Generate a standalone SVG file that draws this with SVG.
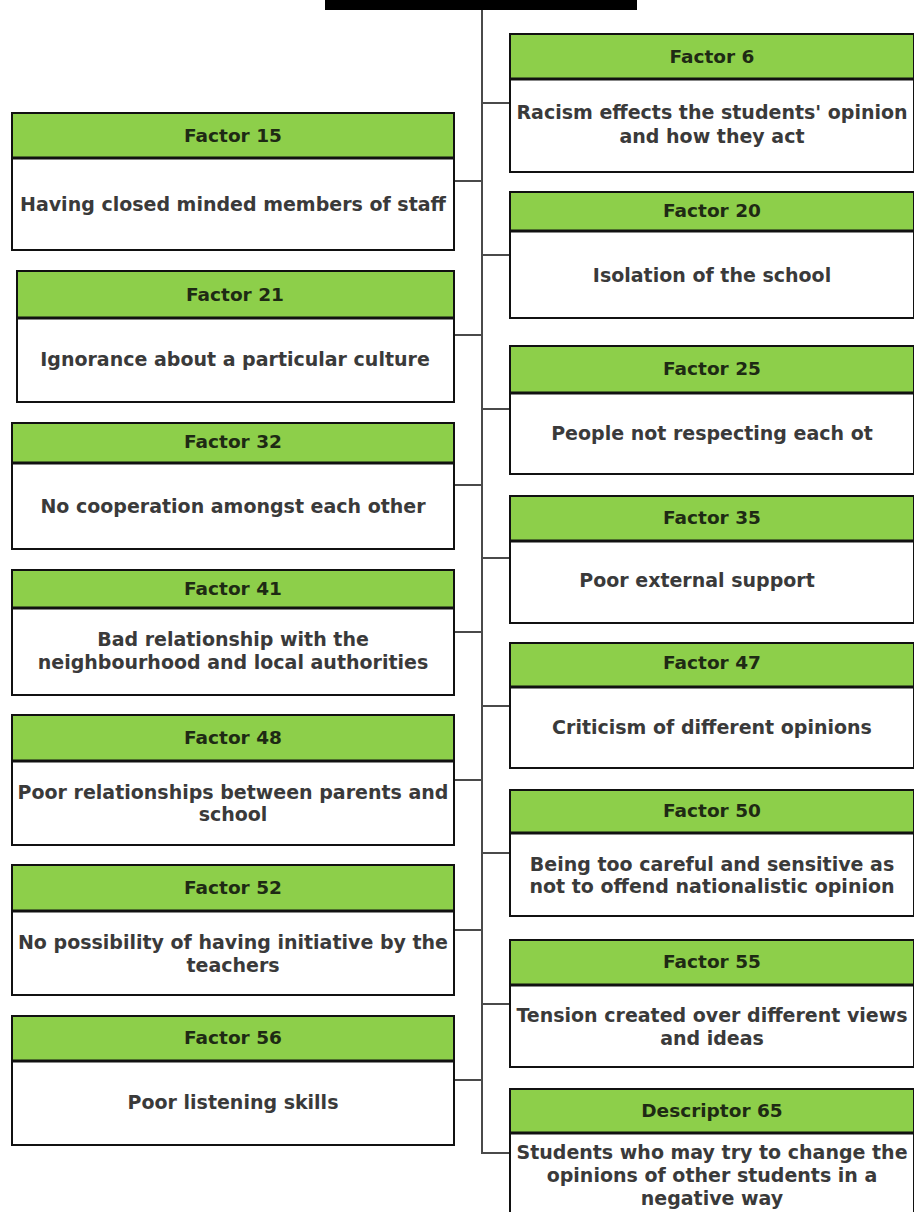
<svg xmlns="http://www.w3.org/2000/svg" width="914" height="1212" viewBox="0 0 914 1212">
<style>
.hd{fill:#8dcf4a;stroke:#111;stroke-width:2}
.bd{fill:#fff;stroke:#111;stroke-width:2}
.dv{stroke:#111;stroke-width:3}
.ht{font-family:"DejaVu Sans",Verdana,sans-serif;font-weight:bold;font-size:18.5px;fill:#1e2a14;text-anchor:middle}
.bt{font-family:"DejaVu Sans",Verdana,sans-serif;font-weight:bold;font-size:19px;fill:#3a3a3a;text-anchor:middle}
.cn{stroke:#4a4a4a;stroke-width:2;fill:none}
</style>
<rect x="325" y="-2" width="312" height="12" fill="#000"/>
<g id="connectors">
<path class="cn" d="M482 10 V1153 H511"/>
<path class="cn" d="M454 181 H482 M454 335 H482 M454 485 H482 M454 632 H482 M454 780 H482 M454 930 H482 M454 1080 H482"/>
<path class="cn" d="M482 103 H510 M482 255 H510 M482 409 H510 M482 558 H510 M482 706 H510 M482 853 H510 M482 1004 H510"/>
</g>
<g id="f15"><rect class="hd" x="12" y="113" width="442" height="45"/><rect class="bd" x="12" y="158" width="442" height="92"/><line class="dv" x1="12" y1="158" x2="454" y2="158"/><text class="ht" x="233" y="142">Factor 15</text><text class="bt" x="233" y="211">Having closed minded members of staff</text></g>
<g id="f21"><rect class="hd" x="17" y="271" width="437" height="47"/><rect class="bd" x="17" y="318" width="437" height="84"/><line class="dv" x1="17" y1="318" x2="454" y2="318"/><text class="ht" x="235" y="301">Factor 21</text><text class="bt" x="235" y="366">Ignorance about a particular culture</text></g>
<g id="f32"><rect class="hd" x="12" y="423" width="442" height="40"/><rect class="bd" x="12" y="463" width="442" height="86"/><line class="dv" x1="12" y1="463" x2="454" y2="463"/><text class="ht" x="233" y="448">Factor 32</text><text class="bt" x="233" y="513">No cooperation amongst each other</text></g>
<g id="f41"><rect class="hd" x="12" y="570" width="442" height="38"/><rect class="bd" x="12" y="608" width="442" height="87"/><line class="dv" x1="12" y1="608" x2="454" y2="608"/><text class="ht" x="233" y="595">Factor 41</text><text class="bt" x="233" y="646">Bad relationship with the</text><text class="bt" x="233" y="669">neighbourhood and local authorities</text></g>
<g id="f48"><rect class="hd" x="12" y="715" width="442" height="46"/><rect class="bd" x="12" y="761" width="442" height="84"/><line class="dv" x1="12" y1="761" x2="454" y2="761"/><text class="ht" x="233" y="744">Factor 48</text><text class="bt" x="233" y="799">Poor relationships between parents and</text><text class="bt" x="233" y="821">school</text></g>
<g id="f52"><rect class="hd" x="12" y="865" width="442" height="46"/><rect class="bd" x="12" y="911" width="442" height="84"/><line class="dv" x1="12" y1="911" x2="454" y2="911"/><text class="ht" x="233" y="894">Factor 52</text><text class="bt" x="233" y="949">No possibility of having initiative by the</text><text class="bt" x="233" y="972">teachers</text></g>
<g id="f56"><rect class="hd" x="12" y="1016" width="442" height="45"/><rect class="bd" x="12" y="1061" width="442" height="84"/><line class="dv" x1="12" y1="1061" x2="454" y2="1061"/><text class="ht" x="233" y="1044">Factor 56</text><text class="bt" x="233" y="1109">Poor listening skills</text></g>
<g id="f6"><rect class="hd" x="510" y="34" width="404" height="45"/><rect class="bd" x="510" y="79" width="404" height="93"/><line class="dv" x1="510" y1="79" x2="914" y2="79"/><text class="ht" x="712" y="63">Factor 6</text><text class="bt" x="712" y="119">Racism effects the students' opinion</text><text class="bt" x="712" y="143">and how they act</text></g>
<g id="f20"><rect class="hd" x="510" y="192" width="404" height="39"/><rect class="bd" x="510" y="231" width="404" height="87"/><line class="dv" x1="510" y1="231" x2="914" y2="231"/><text class="ht" x="712" y="217">Factor 20</text><text class="bt" x="712" y="282">Isolation of the school</text></g>
<g id="f25"><rect class="hd" x="510" y="346" width="404" height="47"/><rect class="bd" x="510" y="393" width="404" height="81"/><line class="dv" x1="510" y1="393" x2="914" y2="393"/><text class="ht" x="712" y="375">Factor 25</text><text class="bt" x="712" y="440">People not respecting each ot</text></g>
<g id="f35"><rect class="hd" x="510" y="496" width="404" height="45"/><rect class="bd" x="510" y="541" width="404" height="82"/><line class="dv" x1="510" y1="541" x2="914" y2="541"/><text class="ht" x="712" y="524">Factor 35</text><text class="bt" x="697" y="587">Poor external support</text></g>
<g id="f47"><rect class="hd" x="510" y="643" width="404" height="44"/><rect class="bd" x="510" y="687" width="404" height="81"/><line class="dv" x1="510" y1="687" x2="914" y2="687"/><text class="ht" x="712" y="669">Factor 47</text><text class="bt" x="712" y="734">Criticism of different opinions</text></g>
<g id="f50"><rect class="hd" x="510" y="790" width="404" height="43"/><rect class="bd" x="510" y="833" width="404" height="83"/><line class="dv" x1="510" y1="833" x2="914" y2="833"/><text class="ht" x="712" y="817">Factor 50</text><text class="bt" x="712" y="871">Being too careful and sensitive as</text><text class="bt" x="712" y="893">not to offend nationalistic opinion</text></g>
<g id="f55"><rect class="hd" x="510" y="940" width="404" height="45"/><rect class="bd" x="510" y="985" width="404" height="82"/><line class="dv" x1="510" y1="985" x2="914" y2="985"/><text class="ht" x="712" y="968">Factor 55</text><text class="bt" x="712" y="1022">Tension created over different views</text><text class="bt" x="712" y="1045">and ideas</text></g>
<g id="d65"><rect class="hd" x="510" y="1089" width="404" height="44"/><rect class="bd" x="510" y="1133" width="404" height="100"/><line class="dv" x1="510" y1="1133" x2="914" y2="1133"/><text class="ht" x="712" y="1117">Descriptor 65</text><text class="bt" x="712" y="1159">Students who may try to change the</text><text class="bt" x="712" y="1182">opinions of other students in a</text><text class="bt" x="712" y="1205">negative way</text></g>
</svg>
